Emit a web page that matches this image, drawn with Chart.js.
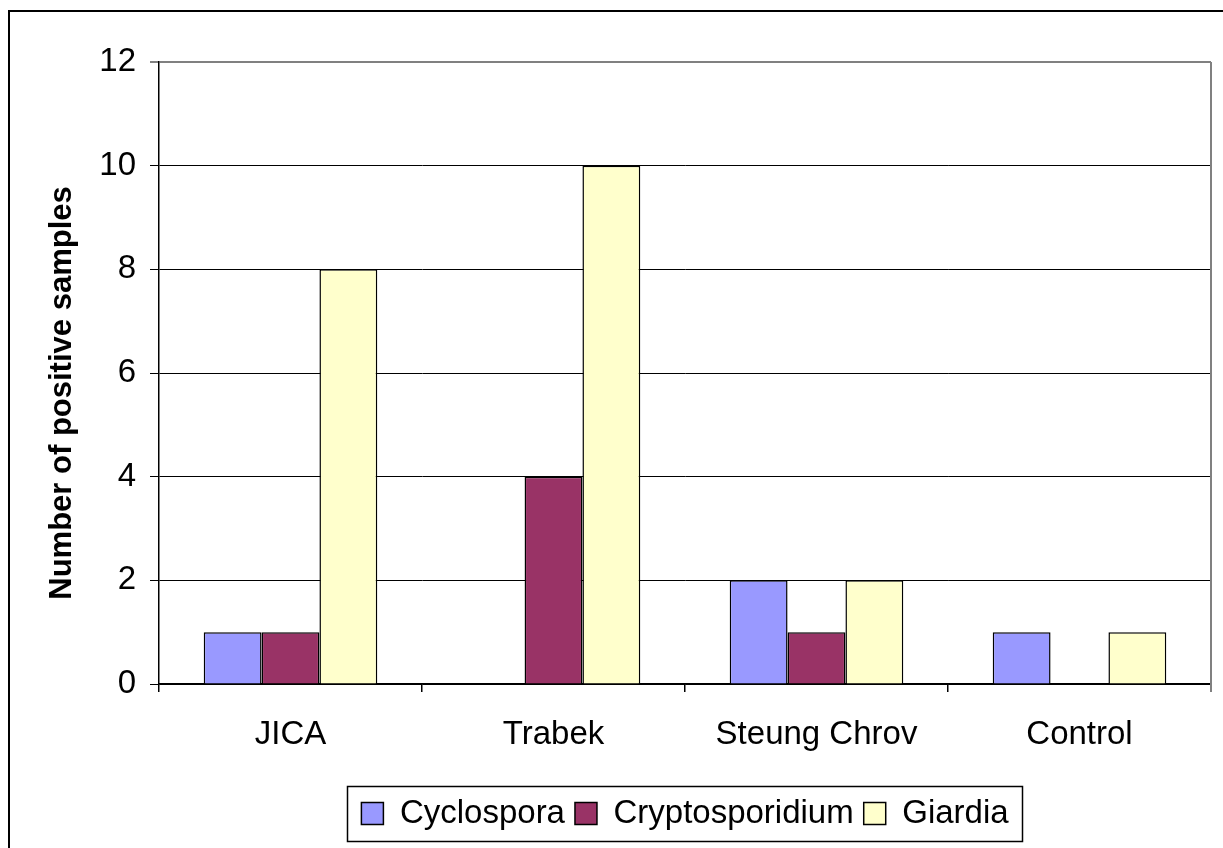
<!DOCTYPE html>
<html>
<head>
<meta charset="utf-8">
<script src="https://cdn.jsdelivr.net/npm/chart.js@4.4.1/dist/chart.umd.min.js"></script>
<style>
  html, body { margin: 0; padding: 0; background: #fff; }
  #wrap { position: relative; width: 1223px; height: 848px; }
</style>
</head>
<body>
<div id="wrap"><canvas id="c" width="1223" height="848"></canvas></div>
<script>
const categories = ['JICA', 'Trabek', 'Steung Chrov', 'Control'];
const cyclospora = [1, 0, 2, 1];
const cryptosporidium = [1, 4, 1, 0];
const giardia = [8, 10, 2, 1];
const seriesNames = ['Cyclospora', 'Cryptosporidium', 'Giardia'];
const yTicks = [0, 2, 4, 6, 8, 10, 12];
const yTitle = 'Number of positive samples';

const FONT = "'Liberation Sans', Arial, sans-serif";

const framePlugin = {
  id: 'frame',
  afterLayout(chart) {
    const lg = chart.legend;
    const a = chart.chartArea;
    if (lg && a) {
      const delta = (a.left + a.right) / 2 - (lg.left + lg.right) / 2;
      lg.left += delta;
      lg.right += delta;
    }
  },
  afterDraw(chart) {
    const ctx = chart.ctx;
    const a = chart.chartArea;
    ctx.save();
    // outer chart frame
    ctx.strokeStyle = '#000';
    ctx.lineWidth = 2;
    ctx.strokeRect(9, 11, 1400, 1000);
    // plot area right border
    ctx.strokeStyle = '#808080';
    ctx.lineWidth = 2;
    ctx.beginPath();
    ctx.moveTo(a.right, a.top);
    ctx.lineTo(a.right, a.bottom + 8);
    ctx.stroke();
    // y axis title (Excel places it slightly below the plot centre)
    ctx.save();
    ctx.translate(62, (a.top + a.bottom) / 2 + 20);
    ctx.rotate(-Math.PI / 2);
    ctx.font = "bold 31px " + FONT;
    ctx.fillStyle = '#000';
    ctx.textAlign = 'center';
    ctx.textBaseline = 'middle';
    ctx.fillText(yTitle, 0, 0);
    ctx.restore();
    // legend border
    const lg = chart.legend;
    if (lg && lg.legendHitBoxes && lg.legendHitBoxes.length) {
      const hb = lg.legendHitBoxes;
      const x0 = hb[0].left - 14;
      const x1 = hb[hb.length - 1].left + hb[hb.length - 1].width + 14;
      const cy = hb[0].top + hb[0].height / 2;
      ctx.strokeStyle = '#000';
      ctx.lineWidth = 1.5;
      ctx.strokeRect(Math.round(x0) + 0.5, Math.round(cy - 27.5) + 0.5, Math.round(x1 - x0), 55);
    }
    ctx.restore();
  }
};

new Chart(document.getElementById('c'), {
  type: 'bar',
  data: {
    labels: categories,
    datasets: [
      { label: seriesNames[0], data: cyclospora, backgroundColor: '#9999FF', borderColor: '#000', borderWidth: 1.5 },
      { label: seriesNames[1], data: cryptosporidium, backgroundColor: '#993366', borderColor: '#000', borderWidth: 1.5 },
      { label: seriesNames[2], data: giardia, backgroundColor: '#FFFFCC', borderColor: '#000', borderWidth: 1.5 }
    ]
  },
  options: {
    responsive: false,
    animation: false,
    devicePixelRatio: 1,
    layout: { padding: { left: 0, top: 62, right: 12, bottom: 8 } },
    datasets: { bar: { categoryPercentage: 0.66, barPercentage: 1.0 } },
    plugins: {
      tooltip: { enabled: false },
      legend: {
        position: 'bottom',
        labels: {
          font: { family: FONT, size: 33 },
          color: '#000',
          boxWidth: 22,
          boxHeight: 22,
          padding: 10,
          useBorderRadius: false
        }
      }
    },
    scales: {
      x: {
        afterFit(s) { s.height = 103; },
        grid: {
          offset: true,
          drawOnChartArea: false,
          tickLength: 8,
          color: (c) => (c.index === 4 ? '#808080' : '#000'),
          lineWidth: 1.5
        },
        border: { color: '#000', width: 1.5 },
        ticks: { font: { family: FONT, size: 33 }, color: '#000', padding: 23 }
      },
      y: {
        min: 0,
        max: 12,
        afterFit(s) { s.width = 159; },
        afterBuildTicks(s) { s.ticks = yTicks.map(v => ({ value: v })); },
        grid: {
          color: (c) => (c.tick && c.tick.value === 12 ? '#808080' : '#000'),
          lineWidth: (c) => (c.tick && c.tick.value === 12 ? 2 : 1),
          tickLength: 9
        },
        border: { color: '#000', width: 1.5 },
        ticks: { font: { family: FONT, size: 33 }, color: '#000', padding: 14 },
        title: { display: false }
      }
    }
  },
  plugins: [framePlugin]
});
</script>
</body>
</html>
